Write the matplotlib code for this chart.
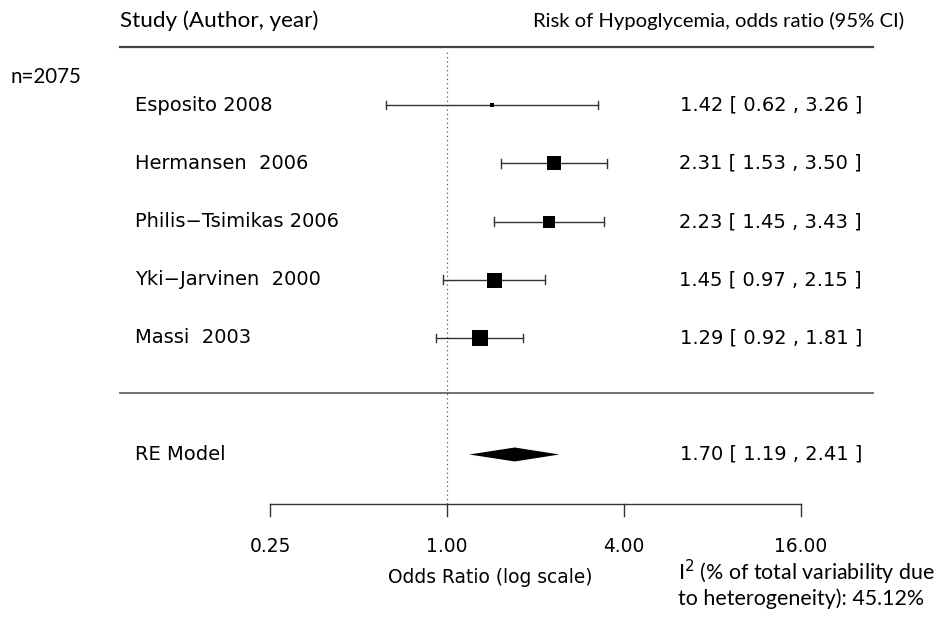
import numpy as np
import matplotlib
matplotlib.use("Agg")
import matplotlib.pyplot as plt
from matplotlib.patches import Polygon

# study data (odds ratio with 95% CI)
studies = ["Esposito 2008", "Hermansen  2006", "Philis\u2212Tsimikas 2006",
           "Yki\u2212Jarvinen  2000", "Massi  2003"]
or_est = [1.42, 2.31, 2.23, 1.45, 1.29]
ci_lo = [0.62, 1.53, 1.45, 0.97, 0.92]
ci_hi = [3.26, 3.50, 3.43, 2.15, 1.81]
box_size = [5, 14, 12, 15, 16]   # square side in px (study weight)

re_est, re_lo, re_hi = 1.70, 1.19, 2.41
tick_vals = [0.25, 1.0, 4.0, 16.0]

rows = np.arange(len(studies), 0, -1)   # 5..1, RE model at -1

fig = plt.figure(figsize=(9.39, 6.28), dpi=100)
ax = fig.add_axes([0, 0, 1, 1])
ax.set_xscale("log", base=2)
ax.set_xlim(2 ** -5.051, 2 ** 5.559)
ax.set_ylim(-3.979, 6.803)
ax.axis("off")

plot_font = "DejaVu Sans"
note_font = "Lato"
fs = 14.0

# header and separating rules
ax.text(2 ** -3.695, 6.45, "Study (Author, year)", family=note_font, fontsize=16.2,
        ha="left", va="center")
ax.text(2 ** 5.17, 6.45, "Risk of Hypoglycemia, odds ratio (95% CI)", family=note_font,
        fontsize=14.6, ha="right", va="center")
ax.plot([2 ** -3.695, 2 ** 4.813], [6.0, 6.0], color="#444444", lw=1.6)
ax.plot([2 ** -3.695, 2 ** 4.813], [0.05, 0.05], color="#666666", lw=1.3)
ax.text(2 ** -4.93, 5.48, "n=2075", family=note_font, fontsize=14.8, ha="left", va="center")

# reference line at OR = 1
ax.plot([1, 1], [-1.85, 5.95], color="#555555", lw=0.9, ls=(0, (1, 2.5)))

for r, name, e, lo, hi, s in zip(rows, studies, or_est, ci_lo, ci_hi, box_size):
    ax.plot([lo, hi], [r, r], color="#333333", lw=1.0)
    for end in (lo, hi):
        ax.plot([end, end], [r - 0.075, r + 0.075], color="#333333", lw=1.0)
    ax.plot([e], [r], marker="s", color="black", markersize=s * 0.72, mew=0)
    ax.text(2 ** -3.53, r, name, family=plot_font, fontsize=fs, ha="left", va="center")
    ax.text(2 ** 4.689, r, f"{e:.2f} [ {lo:.2f} , {hi:.2f} ]", family=plot_font,
            fontsize=fs, ha="right", va="center")

# pooled random-effects estimate
dh = 0.12
ax.add_patch(Polygon([[re_lo, -1], [re_est, -1 + dh], [re_hi, -1], [re_est, -1 - dh]],
                     closed=True, color="black", lw=0))
ax.text(2 ** -3.53, -1, "RE Model", family=plot_font, fontsize=fs, ha="left", va="center")
ax.text(2 ** 4.689, -1, f"{re_est:.2f} [ {re_lo:.2f} , {re_hi:.2f} ]", family=plot_font,
        fontsize=fs, ha="right", va="center")

# x axis drawn by hand like a forest plot
ya = -1.85
ax.plot([tick_vals[0], tick_vals[-1]], [ya, ya], color="#333333", lw=1.0)
for t in tick_vals:
    ax.plot([t, t], [ya, ya - 0.2], color="#333333", lw=1.0)
    ax.text(t, ya - 0.73, f"{t:.2f}", family=plot_font, fontsize=13.4, ha="center", va="center")
ax.text(1.40, -3.12, "Odds Ratio (log scale)", family=plot_font, fontsize=13.4,
        ha="center", va="center")

ax.text(2 ** 2.61, -3.03, "I$^{2}$ (% of total variability due", family=note_font,
        fontsize=15.4, ha="left", va="center")
ax.text(2 ** 2.61, -3.47, "to heterogeneity): 45.12%", family=note_font,
        fontsize=15.4, ha="left", va="center")

fig.savefig("out.png", dpi=100)
